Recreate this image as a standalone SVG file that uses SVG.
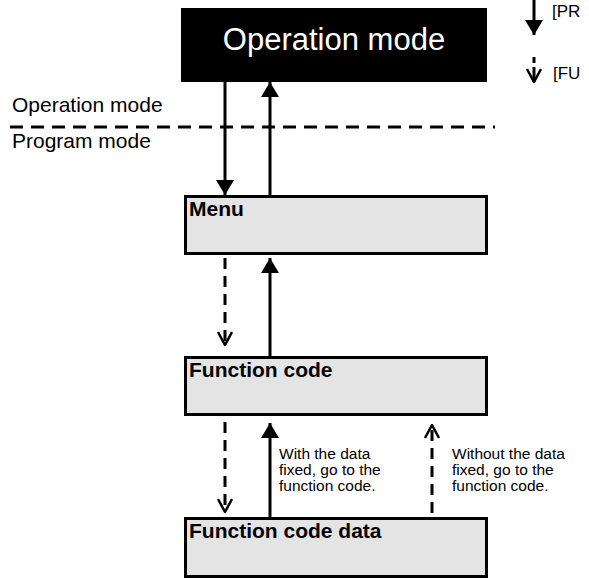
<svg xmlns="http://www.w3.org/2000/svg" width="589" height="579" viewBox="0 0 589 579">
<style>
.t{font-family:"Liberation Sans",Arial,sans-serif;fill:#000}
.b{font-weight:bold;font-size:21px}
.s{font-size:15.5px}
.box{fill:#e4e4e4;stroke:#000;stroke-width:3}
.ln{stroke:#000;stroke-width:3;fill:none}
.dash{stroke-dasharray:11 7}
</style>
<defs>
<marker id="fa" viewBox="0 0 15 18" refX="15" refY="9" markerWidth="15" markerHeight="18" markerUnits="userSpaceOnUse" orient="auto">
<path d="M0,0 L15,9 L0,18 Z" fill="#000"/>
</marker>
<marker id="oa" viewBox="0 0 15 16" refX="14" refY="8" markerWidth="15" markerHeight="16" markerUnits="userSpaceOnUse" orient="auto">
<path d="M1,1 L14,8 L1,15" fill="none" stroke="#000" stroke-width="2.5" stroke-dasharray="none"/>
</marker>
</defs>

<g id="mode-divider">
<text class="t" x="12" y="112" font-size="21">Operation mode</text>
<line class="ln" x1="10" y1="127" x2="495" y2="127" stroke-dasharray="13 8"/>
<text class="t" x="12" y="148" font-size="21">Program mode</text>
</g>

<g id="legend">
<line class="ln" x1="534" y1="0" x2="534" y2="35" marker-end="url(#fa)"/>
<text class="t" x="552" y="17" font-size="17">[PR</text>
<line class="ln" x1="534" y1="57" x2="534" y2="63"/>
<line class="ln" x1="534" y1="67" x2="534" y2="82" marker-end="url(#oa)"/>
<text class="t" x="553" y="79" font-size="17">[FU</text>
</g>

<g id="operation-mode">
<rect x="181" y="8" width="306" height="74" fill="#000"/>
<text x="334" y="50" text-anchor="middle" font-family="Liberation Sans, Arial, sans-serif" font-size="31" fill="#fff">Operation mode</text>
</g>

<g id="menu">
<rect class="box" x="185.5" y="196.5" width="301" height="57"/>
<text class="t b" x="189" y="216">Menu</text>
</g>

<g id="function-code">
<rect class="box" x="185.5" y="357.5" width="301" height="57"/>
<text class="t b" x="189" y="377">Function code</text>
</g>

<g id="function-code-data">
<rect class="box" x="185.5" y="518.5" width="301" height="58"/>
<text class="t b" x="189" y="538">Function code data</text>
</g>

<g id="connectors">
<line class="ln" x1="225" y1="82" x2="225" y2="195" marker-end="url(#fa)"/>
<line class="ln" x1="270" y1="195" x2="270" y2="82" marker-end="url(#fa)"/>
<line class="ln dash" x1="225" y1="258" x2="225" y2="345" marker-end="url(#oa)"/>
<line class="ln" x1="270" y1="356" x2="270" y2="258" marker-end="url(#fa)"/>
<line class="ln dash" x1="225" y1="422" x2="225" y2="512" marker-end="url(#oa)"/>
<line class="ln" x1="270" y1="517" x2="270" y2="423" marker-end="url(#fa)"/>
<line class="ln dash" x1="432" y1="513" x2="432" y2="425" marker-end="url(#oa)"/>
</g>

<g id="labels">
<text class="t s" x="279" y="459">With the data</text>
<text class="t s" x="279" y="475">fixed, go to the</text>
<text class="t s" x="279" y="491">function code.</text>
<text class="t s" x="452" y="459">Without the data</text>
<text class="t s" x="452" y="475">fixed, go to the</text>
<text class="t s" x="452" y="491">function code.</text>
</g>
</svg>
